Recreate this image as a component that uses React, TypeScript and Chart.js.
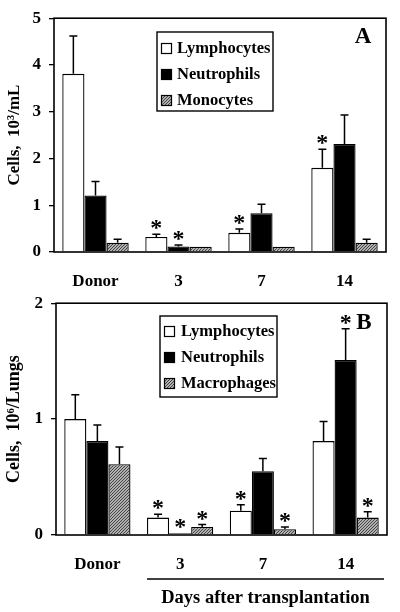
import React, { useEffect, useRef } from "react";
import { Chart, registerables } from "chart.js";
Chart.register(...registerables);

// ---------- data ----------
const categories = ["Donor", "3", "7", "14"];
const namesA = ["Lymphocytes", "Neutrophils", "Monocytes"];
const namesB = ["Lymphocytes", "Neutrophils", "Macrophages"];

const lymphA = [3.81, 0.32, 0.41, 1.8];
const lymphAErr = [0.81, 0.06, 0.08, 0.4];
const neutA = [1.21, 0.12, 0.83, 2.31];
const neutAErr = [0.3, 0.03, 0.19, 0.62];
const monoA = [0.2, 0.11, 0.11, 0.2];
const monoAErr = [0.07, 0, 0, 0.07];
const lymphAStar = [false, true, true, true];
const neutAStar = [false, true, false, false];
const monoAStar = [false, false, false, false];

const lymphB = [1.0, 0.15, 0.21, 0.81];
const lymphBErr = [0.21, 0.03, 0.05, 0.17];
const neutB = [0.81, 0.015, 0.55, 1.51];
const neutBErr = [0.14, 0, 0.11, 0.27];
const macB = [0.61, 0.07, 0.05, 0.15];
const macBErr = [0.15, 0.02, 0.02, 0.05];
const lymphBStar = [false, true, true, false];
const neutBStar = [false, true, false, true];
const macBStar = [false, true, true, true];

const yMaxA = 5;
const yMaxB = 2;
const yTitleA = "Cells,  10³/mL";
const yTitleB = "Cells,  10⁶/Lungs";
const xTitleB = "Days after transplantation";
const FONT = '"Liberation Serif", "Times New Roman", serif';

// ---------- plugins ----------
const boxPlugin = {
  id: "box",
  afterDraw(chart: any) {
    const { ctx, chartArea: a } = chart;
    ctx.save();
    ctx.strokeStyle = "#000";
    ctx.lineWidth = 1.6;
    ctx.strokeRect(a.left, a.top, a.right - a.left, a.bottom - a.top);
    ctx.restore();
  },
};

const errPlugin = {
  id: "errStars",
  afterDatasetsDraw(chart: any) {
    const ctx = chart.ctx;
    const y = chart.scales.y;
    chart.data.datasets.forEach((ds: any, i: number) => {
      const meta = chart.getDatasetMeta(i);
      meta.data.forEach((bar: any, j: number) => {
        const v = ds.data[j];
        const e = ds.errors[j];
        const top = y.getPixelForValue(v + e);
        if (e > 0) {
          ctx.save();
          ctx.strokeStyle = "#000";
          ctx.lineWidth = 1.5;
          ctx.beginPath();
          ctx.moveTo(bar.x, bar.y);
          ctx.lineTo(bar.x, top);
          ctx.moveTo(bar.x - 4, top);
          ctx.lineTo(bar.x + 4, top);
          ctx.stroke();
          ctx.restore();
        }
        if (ds.stars[j]) {
          ctx.save();
          ctx.font = `bold 24px ${FONT}`;
          ctx.textAlign = "center";
          ctx.textBaseline = "alphabetic";
          ctx.fillStyle = "#000";
          ctx.fillText("*", bar.x, top + 1);
          ctx.restore();
        }
      });
    });
  },
};

const legendPlugin = {
  id: "boxLegend",
  afterDraw(chart: any, _args: any, opts: any) {
    const { ctx } = chart;
    const [bx, by, bw, bh] = opts.box;
    ctx.save();
    ctx.fillStyle = "#fff";
    ctx.fillRect(bx, by, bw, bh);
    ctx.strokeStyle = "#000";
    ctx.lineWidth = 1.4;
    ctx.strokeRect(bx, by, bw, bh);
    chart.data.datasets.forEach((ds: any, i: number) => {
      const cy = by + opts.firstRow + i * opts.rowGap;
      const sx = bx + opts.swatchX;
      ctx.fillStyle = ds.backgroundColor;
      ctx.fillRect(sx, cy - 5, 11, 11);
      ctx.strokeStyle = "#000";
      ctx.lineWidth = 1.2;
      ctx.strokeRect(sx + 0.5, cy - 4.5, 10, 10);
      ctx.fillStyle = "#000";
      ctx.font = `bold ${opts.fontSize}px ${FONT}`;
      ctx.textAlign = "left";
      ctx.textBaseline = "middle";
      ctx.fillText(ds.label, bx + opts.textX, cy + 1);
    });
    ctx.restore();
  },
};

const letterPlugin = {
  id: "panelLetter",
  afterDraw(chart: any, _args: any, opts: any) {
    const { ctx } = chart;
    ctx.save();
    ctx.font = `bold ${opts.size}px ${FONT}`;
    ctx.textAlign = "center";
    ctx.textBaseline = "middle";
    ctx.fillStyle = "#000";
    ctx.fillText(opts.text, opts.x, opts.y);
    ctx.restore();
  },
};

const daysPlugin = {
  id: "daysTitle",
  afterDraw(chart: any, _args: any, opts: any) {
    if (!opts || !opts.text) return;
    const { ctx, chartArea } = chart;
    const bar = chart.getDatasetMeta(0).data[1];
    const left = bar.x - bar.width / 2;
    const right = chartArea.right - 3;
    ctx.save();
    ctx.strokeStyle = "#000";
    ctx.lineWidth = 1.4;
    ctx.beginPath();
    ctx.moveTo(left, opts.lineY);
    ctx.lineTo(right, opts.lineY);
    ctx.stroke();
    ctx.font = `bold ${opts.size}px ${FONT}`;
    ctx.textAlign = "center";
    ctx.textBaseline = "middle";
    ctx.fillStyle = "#000";
    ctx.fillText(opts.text, (left + right) / 2, opts.textY);
    ctx.restore();
  },
};

function makePattern(): CanvasPattern | string {
  const pc = document.createElement("canvas");
  pc.width = 3;
  pc.height = 3;
  const g = pc.getContext("2d");
  if (!g) return "#888";
  g.fillStyle = "#b0b0b0";
  g.fillRect(0, 0, 3, 3);
  g.fillStyle = "#454545";
  for (let i = 0; i < 3; i++) {
    g.fillRect(i, 2 - i, 1, 1);
  }
  const p = g.createPattern(pc, "repeat");
  return p || "#888";
}

function buildConfig(p: {
  names: string[];
  values: number[][];
  errors: number[][];
  stars: boolean[][];
  pattern: any;
  yMax: number;
  yTitle: string;
  yTitleSize: number;
  yWidth: number;
  xHeight: number;
  padTop: number;
  padRight: number;
  legend: any;
  letter: any;
  days?: any;
}) {
  const fills = ["#ffffff", "#000000", p.pattern];
  return {
    type: "bar" as const,
    data: {
      labels: categories,
      datasets: p.names.map((n, i) => ({
        label: n,
        data: p.values[i],
        errors: p.errors[i],
        stars: p.stars[i],
        backgroundColor: fills[i],
        borderColor: "#000",
        borderWidth: 1.3,
        categoryPercentage: 0.8,
        barPercentage: 1.0,
      })),
    },
    options: {
      responsive: false,
      animation: false as const,
      devicePixelRatio: 1,
      layout: { padding: { top: p.padTop, right: p.padRight, left: 0, bottom: 0 } },
      plugins: {
        legend: { display: false },
        tooltip: { enabled: false },
        boxLegend: p.legend,
        panelLetter: p.letter,
        daysTitle: p.days || {},
      },
      scales: {
        x: {
          grid: { display: false },
          border: { display: false },
          ticks: { color: "#000", font: { family: FONT, size: 17, weight: "bold" as const }, padding: 11 },
          afterFit(s: any) {
            s.height = p.xHeight;
          },
        },
        y: {
          min: 0,
          max: p.yMax,
          ticks: {
            stepSize: 1,
            color: "#000",
            padding: 8,
            font: { family: FONT, size: 17, weight: "bold" as const },
          },
          grid: { drawOnChartArea: false, drawTicks: true, tickLength: 5, color: "#000", lineWidth: 1.3 },
          border: { display: false },
          title: {
            display: true,
            text: p.yTitle,
            color: "#000",
            font: { family: FONT, size: p.yTitleSize, weight: "bold" as const },
            padding: { top: 4, bottom: 0 },
          },
          afterFit(s: any) {
            s.width = p.yWidth;
          },
        },
      },
    },
    plugins: [boxPlugin, errPlugin, legendPlugin, letterPlugin, daysPlugin],
  };
}

export default function App() {
  const refA = useRef<HTMLCanvasElement>(null);
  const refB = useRef<HTMLCanvasElement>(null);

  useEffect(() => {
    const pattern = makePattern();
    const chartA = new Chart(
      refA.current as HTMLCanvasElement,
      buildConfig({
        names: namesA,
        values: [lymphA, neutA, monoA],
        errors: [lymphAErr, neutAErr, monoAErr],
        stars: [lymphAStar, neutAStar, monoAStar],
        pattern,
        yMax: yMaxA,
        yTitle: yTitleA,
        yTitleSize: 17,
        yWidth: 54,
        xHeight: 48,
        padTop: 15,
        padRight: 14,
        legend: { box: [157, 32, 116, 79], firstRow: 16, rowGap: 26, swatchX: 4, textX: 20, fontSize: 16.5 },
        letter: { text: "A", x: 363, y: 37, size: 23 },
      }) as any
    );
    const chartB = new Chart(
      refB.current as HTMLCanvasElement,
      buildConfig({
        names: namesB,
        values: [lymphB, neutB, macB],
        errors: [lymphBErr, neutBErr, macBErr],
        stars: [lymphBStar, neutBStar, macBStar],
        pattern,
        yMax: yMaxB,
        yTitle: yTitleB,
        yTitleSize: 18,
        yWidth: 56,
        xHeight: 77,
        padTop: 15,
        padRight: 13,
        legend: { box: [160, 31, 117, 81], firstRow: 15, rowGap: 26, swatchX: 4, textX: 21, fontSize: 16.5 },
        letter: { text: "B", x: 364, y: 38, size: 23 },
        days: { text: xTitleB, lineY: 294, textY: 313, size: 18.5 },
      }) as any
    );
    return () => {
      chartA.destroy();
      chartB.destroy();
    };
  }, []);

  return (
    <div style={{ position: "absolute", left: 0, top: 0, width: 400, height: 612, background: "#fff" }}>
      <canvas ref={refA} width={400} height={300} style={{ position: "absolute", left: 0, top: 0, width: 400, height: 300 }} />
      <canvas ref={refB} width={400} height={327} style={{ position: "absolute", left: 0, top: 285, width: 400, height: 327 }} />
    </div>
  );
}
